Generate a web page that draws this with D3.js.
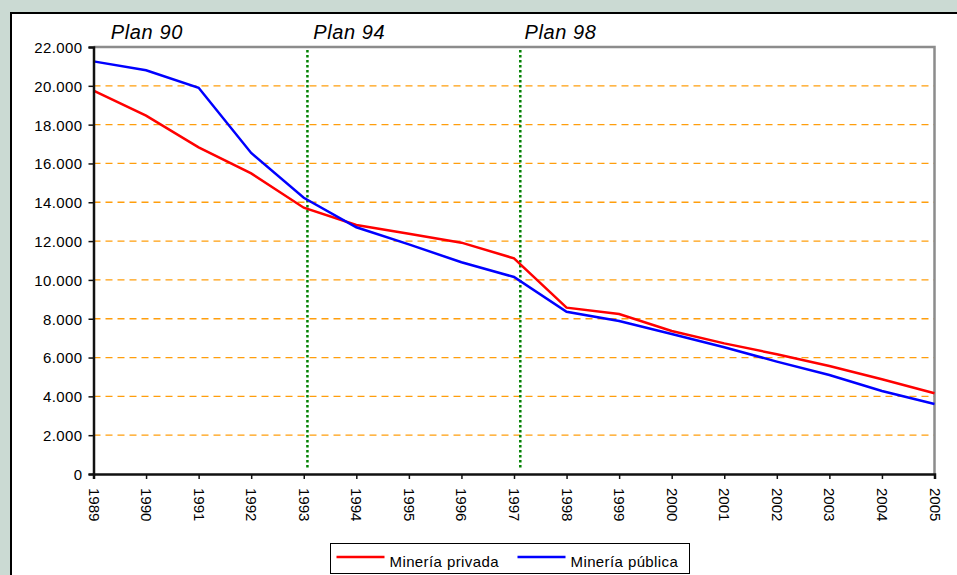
<!DOCTYPE html>
<html>
<head>
<meta charset="utf-8">
<script src="https://cdn.jsdelivr.net/npm/d3@7"></script>
<style>
  body { margin: 0; background: #CBDAD3; }
  svg { display: block; font-family: "Liberation Sans", Arial, sans-serif; }
</style>
</head>
<body>
<div id="chart"></div>
<script>
// data
const years = [1989, 1990, 1991, 1992, 1993, 1994, 1995, 1996, 1997, 1998, 1999, 2000, 2001, 2002, 2003, 2004, 2005];
const privada = [19750, 18460, 16830, 15490, 13720, 12830, 12380, 11920, 11110, 8570, 8240, 7370, 6730, 6170, 5560, 4880, 4160];
const publica = [21260, 20800, 19900, 16540, 14230, 12710, 11830, 10910, 10150, 8360, 7880, 7210, 6530, 5790, 5100, 4280, 3610];
const yTicks = [0, 2000, 4000, 6000, 8000, 10000, 12000, 14000, 16000, 18000, 20000, 22000];
const planNames = ["Plan 90", "Plan 94", "Plan 98"];
const planLabelAt = [1989.33, 1993.18, 1997.2];
const planLines = [1993.07, 1997.12];
const seriesNames = ["Minería privada", "Minería pública"];

const width = 957, height = 575;
const margin = {left: 93.5, right: 957 - 934.5, top: 47, bottom: 575 - 474};

const svg = d3.select("#chart")
  .append("svg")
    .attr("width", width)
    .attr("height", height);

svg.append("rect")
  .attr("width", width).attr("height", height)
  .attr("fill", "#CBDAD3");

// white panel
svg.append("rect")
  .attr("x", 11).attr("y", 13)
  .attr("width", 980).attr("height", 600)
  .attr("fill", "white")
  .attr("stroke", "black")
  .attr("stroke-width", 2);

const x = d3.scaleLinear()
  .domain([1989, 2005])
  .range([margin.left, width - margin.right]);

const y = d3.scaleLinear()
  .domain([0, 22000])
  .range([height - margin.bottom, margin.top]);

const fmt = d => d3.format(",")(d).replace(/,/g, ".");

// gridlines
svg.append("g")
  .selectAll("line")
  .data(yTicks.filter(d => d > 0 && d < 22000))
  .enter().append("line")
    .attr("x1", x(1989)).attr("x2", x(2005))
    .attr("y1", d => y(d)).attr("y2", d => y(d))
    .attr("stroke", "#FF9E0D")
    .attr("stroke-width", 1.3)
    .attr("stroke-dasharray", "7,5");

// gray frame top and right
svg.append("path")
  .attr("d", "M" + x(1989) + "," + y(22000) + "H" + x(2005) + "V" + y(0))
  .attr("fill", "none")
  .attr("stroke", "#8C8C8C")
  .attr("stroke-width", 2.5);

// plan lines
svg.append("g")
  .selectAll("line")
  .data(planLines)
  .enter().append("line")
    .attr("x1", d => x(d)).attr("x2", d => x(d))
    .attr("y1", y(22000) + 3).attr("y2", y(0) - 6)
    .attr("stroke", "#008000")
    .attr("stroke-width", 2.5)
    .attr("stroke-dasharray", "2.5,2.5");

svg.append("g")
  .selectAll("text")
  .data(planNames)
  .enter().append("text")
    .attr("x", (d, i) => x(planLabelAt[i]))
    .attr("y", 39)
    .attr("font-size", "20px")
    .attr("font-style", "italic")
    .attr("letter-spacing", "0.6px")
    .attr("fill", "black")
    .text(d => d);

// series
const line = d3.line()
  .x((d, i) => x(years[i]))
  .y(d => y(d));

svg.append("path")
  .datum(privada)
  .attr("d", line)
  .attr("fill", "none")
  .attr("stroke", "#FF0000")
  .attr("stroke-width", 2.5);

svg.append("path")
  .datum(publica)
  .attr("d", line)
  .attr("fill", "none")
  .attr("stroke", "#0000FF")
  .attr("stroke-width", 2.5);

// axes
const yAxis = svg.append("g")
  .attr("transform", "translate(" + x(1989) + ",0)")
  .call(d3.axisLeft(y).tickValues(yTicks).tickFormat(fmt).tickSize(5).tickPadding(6));

const xAxis = svg.append("g")
  .attr("transform", "translate(0," + y(0) + ")")
  .call(d3.axisBottom(x).tickValues(years).tickFormat(d3.format("d")).tickSize(5));

[yAxis, xAxis].forEach(a => {
  a.select(".domain").attr("stroke", "#111").attr("stroke-width", 2.5);
  a.selectAll(".tick line").attr("stroke", "#111").attr("stroke-width", 1.5);
  a.selectAll("text")
    .attr("font-size", "15px")
    .attr("fill", "black")
    .attr("font-family", "Liberation Sans, Arial, sans-serif");
});
yAxis.selectAll("text").attr("dy", "0.36em").attr("letter-spacing", "0.4px");

xAxis.selectAll("text")
  .attr("text-anchor", "start")
  .attr("dy", null)
  .attr("y", 0)
  .attr("transform", "translate(-5.5,14) rotate(90)");

// legend
const legend = svg.append("g").attr("transform", "translate(330.5,543.5)");
legend.append("rect")
  .attr("width", 359).attr("height", 30)
  .attr("fill", "white")
  .attr("stroke", "black")
  .attr("stroke-width", 1);

const legendX = [6, 187];
const legendColors = ["#FF0000", "#0000FF"];
seriesNames.forEach((name, i) => {
  legend.append("line")
    .attr("x1", legendX[i]).attr("x2", legendX[i] + 48)
    .attr("y1", 13.5).attr("y2", 13.5)
    .attr("stroke", legendColors[i])
    .attr("stroke-width", 2.5);
  legend.append("text")
    .attr("x", legendX[i] + 53)
    .attr("y", 23)
    .attr("font-size", "15px")
    .attr("letter-spacing", "0.4px")
    .text(name);
});
</script>
</body>
</html>
